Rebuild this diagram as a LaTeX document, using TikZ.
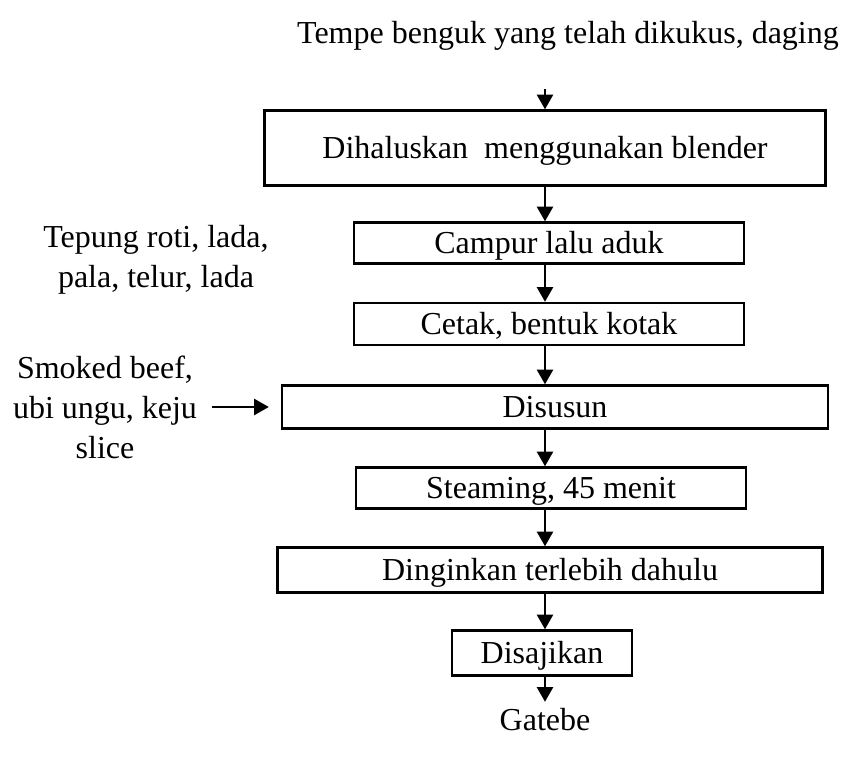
\documentclass[tikz,border=0pt]{standalone}
\usepackage{fontspec}
\setmainfont{Liberation Serif}
\usepackage{tikz}
\usetikzlibrary{arrows.meta, positioning}

\begin{document}
\begin{tikzpicture}[x=0.75pt, y=-0.75pt,
        font=\fontsize{24}{30}\selectfont,
        box/.style={draw, line width=1.8pt, inner sep=0pt, text height=21.4pt, text depth=5.3pt},
        flow/.style={line width=1.8pt, -{Triangle[width=12pt,length=11pt]}}]
    \useasboundingbox (0,0) rectangle (842,758);

    % bahan dan langkah
    \node[inner sep=0pt] (tempe) at (568, 36) {Tempe benguk yang telah dikukus, daging};
    \coordinate (masuk) at (545, 89);
    \node[box, minimum width=420.75pt, minimum height=56.25pt] (haluskan) at (545, 148) {Dihaluskan\ \ menggunakan blender};
    \node[box, minimum width=292.5pt, minimum height=30.75pt] (campur) at (549, 243) {Campur lalu aduk};
    \node[align=center, inner sep=0pt] (tepung) at (156, 260) {Tepung roti, lada,\\pala, telur, lada};
    \node[box, minimum width=292.5pt, minimum height=31.5pt] (cetak) at (549, 324) {Cetak, bentuk kotak};
    \node[box, minimum width=409.5pt, minimum height=32.25pt] (susun) at (555, 407) {Disusun};
    \node[align=center, inner sep=0pt] (smoked) at (105, 407) {Smoked beef,\\ubi ungu, keju\\slice};
    \node[box, minimum width=292.5pt, minimum height=30.75pt] (steaming) at (551, 488) {Steaming, 45 menit};
    \node[box, minimum width=408.75pt, minimum height=33.75pt] (dinginkan) at (550, 570) {Dinginkan terlebih dahulu};
    \node[box, minimum width=135pt, minimum height=33.75pt] (sajikan) at (542, 653) {Disajikan};
    \node[inner sep=0pt] (gatebe) at (545, 720) {Gatebe};

    \draw[flow] (masuk) -- (masuk |- haluskan.north);
    \draw[flow] (masuk |- haluskan.south) -- (masuk |- campur.north);
    \draw[flow] (masuk |- campur.south) -- (masuk |- cetak.north);
    \draw[flow] (masuk |- cetak.south) -- (masuk |- susun.north);
    \draw[flow] (masuk |- susun.south) -- (masuk |- steaming.north);
    \draw[flow] (masuk |- steaming.south) -- (masuk |- dinginkan.north);
    \draw[flow] (masuk |- dinginkan.south) -- (masuk |- sajikan.north);
    \draw[flow, shorten >=5pt] (masuk |- sajikan.south) -- (masuk |- gatebe.north);
    \draw[flow, shorten <=11pt, shorten >=9pt] (smoked.east) -- (susun.west);
\end{tikzpicture}
\end{document}
